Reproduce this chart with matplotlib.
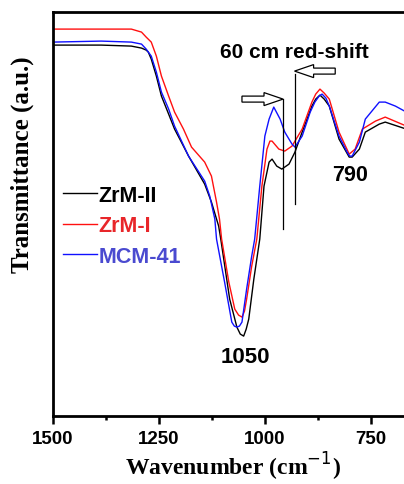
import matplotlib
matplotlib.use('Agg')
import matplotlib.pyplot as plt
from matplotlib.patches import FancyArrow
from matplotlib.ticker import MultipleLocator

# FTIR spectra (wavenumber in cm-1, transmittance in a.u.)
wn_zrm2 = [1500, 1386, 1315, 1291, 1280, 1275, 1268, 1256, 1244, 1227, 1213, 1197, 1180, 1142, 1126, 1109,
           1104, 1083, 1066, 1058, 1050, 1044, 1038, 1026, 1012, 1002, 990, 983, 972, 960, 943, 929,
           912, 889, 880, 870, 860, 848, 825, 801, 794, 777, 763, 730, 716, 666]
t_zrm2 = [371, 371, 370, 368, 366, 364, 357, 340, 320, 302, 287, 274, 260, 232, 214, 190,
          177, 117, 89, 82, 80, 87, 97, 137, 177, 230, 254, 257, 250, 247, 252, 264,
          284, 310, 317, 321, 317, 310, 277, 259, 259, 267, 284, 292, 294, 287]

wn_zrm1 = [1500, 1315, 1291, 1280, 1268, 1256, 1244, 1227, 1213, 1192, 1173, 1142, 1126, 1114, 1107, 1102,
           1085, 1071, 1062, 1054, 1048, 1043, 1031, 1019, 1007, 995, 988, 983, 967, 953, 936, 912,
           889, 880, 870, 860, 848, 825, 801, 787, 770, 739, 716, 666]
t_zrm1 = [387, 387, 384, 379, 374, 360, 340, 320, 304, 287, 269, 254, 240, 214, 197, 177,
          134, 107, 101, 99, 105, 117, 150, 177, 230, 267, 275, 275, 267, 265, 270, 287,
          314, 322, 327, 323, 317, 284, 262, 267, 287, 295, 299, 290]

wn_mcm = [1500, 1386, 1315, 1291, 1280, 1268, 1256, 1244, 1227, 1213, 1180, 1142, 1130, 1118, 1114, 1095,
          1078, 1072, 1066, 1060, 1054, 1043, 1031, 1024, 1012, 1000, 990, 979, 964, 953, 936, 929,
          912, 893, 882, 872, 865, 856, 848, 825, 806, 800, 794, 777, 763, 730, 716, 692, 666]
t_mcm = [374, 375, 374, 372, 367, 360, 344, 324, 307, 290, 260, 235, 220, 197, 177, 134,
         94, 90, 89, 90, 94, 127, 160, 177, 230, 280, 297, 309, 297, 284, 272, 269,
         280, 304, 314, 320, 322, 318, 310, 280, 264, 260, 260, 274, 297, 314, 314, 310, 304]

labels = ['ZrM-II', 'ZrM-I', 'MCM-41']
line_colors = ['black', '#ff1010', '#1010ff']
text_colors = ['black', '#e8262a', '#4a4ad0']

fig = plt.figure(figsize=(4.04, 4.85), dpi=100)
ax = fig.add_axes([0.131, 0.140, 0.875, 0.833])

ax.plot(wn_zrm2, t_zrm2, color=line_colors[0], lw=1.0, label=labels[0])
ax.plot(wn_zrm1, t_zrm1, color=line_colors[1], lw=1.0, label=labels[1])
ax.plot(wn_mcm, t_mcm, color=line_colors[2], lw=1.0, label=labels[2])

ax.set_xlim(1500, 666)
ax.set_ylim(0, 404)

# shift markers
ax.plot([957, 957], [187, 317], color='black', lw=0.9)
ax.plot([930, 930], [212, 342], color='black', lw=0.9)
ax.add_patch(FancyArrow(1054, 317, -97, 0, width=6, head_width=13, head_length=45,
                        length_includes_head=True, fc='white', ec='black', lw=0.9))
ax.add_patch(FancyArrow(834, 345, 96, 0, width=6, head_width=13, head_length=45,
                        length_includes_head=True, fc='white', ec='black', lw=0.9))

ax.text(931, 365, '60 cm red-shift', ha='center', va='center', fontsize=15,
        fontweight='bold', family='Liberation Sans')
ax.text(799, 242, '790', ha='center', va='center', fontsize=15.5,
        fontweight='bold', family='Liberation Sans')
ax.text(1047, 60, '1050', ha='center', va='center', fontsize=16,
        fontweight='bold', family='Liberation Sans')

leg = ax.legend(loc='upper left', bbox_to_anchor=(0.0, 0.598), frameon=False,
                handlelength=1.6, handletextpad=0.05, labelspacing=0.45,
                borderpad=0.0, borderaxespad=0.47,
                prop={'family': 'Liberation Sans', 'weight': 'bold', 'size': 15.5})
for txt, c in zip(leg.get_texts(), text_colors):
    txt.set_color(c)

ax.xaxis.set_major_locator(MultipleLocator(250))
ax.xaxis.set_minor_locator(MultipleLocator(125))
ax.tick_params(axis='x', which='major', direction='out', length=6, width=1.8, pad=4,
               labelsize=13.5)
ax.tick_params(axis='x', which='minor', direction='out', length=3, width=1.8)
for lab in ax.get_xticklabels():
    lab.set_fontweight('bold')
    lab.set_family('Liberation Sans')
ax.set_yticks([])

for s in ['left', 'bottom', 'top']:
    ax.spines[s].set_linewidth(2.0)
ax.spines['right'].set_visible(False)

ax.set_xlabel('Wavenumber (cm$^{-1}$)', fontsize=17, fontweight='bold',
              family='Liberation Serif')
ax.xaxis.label.set_va('baseline')
ax.xaxis.set_label_coords(0.51, -0.146)
fig.text(0.054, 0.66, 'Transmittance (a.u.)', rotation=90, ha='center', va='center',
         fontsize=18, fontweight='bold', family='Liberation Serif')

fig.savefig('out.png', dpi=100)
